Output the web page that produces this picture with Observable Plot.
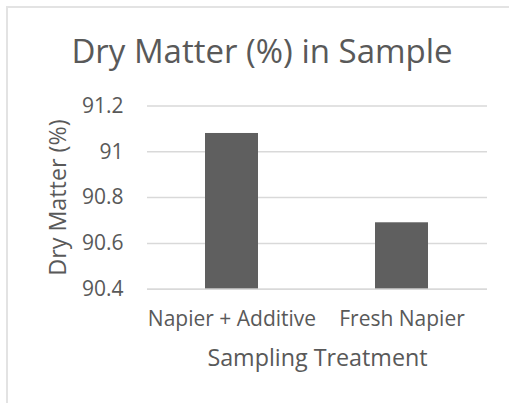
<!DOCTYPE html>
<html>
<head>
<meta charset="utf-8">
<script src="https://cdn.jsdelivr.net/npm/d3@7"></script>
<script src="https://cdn.jsdelivr.net/npm/@observablehq/plot@0.6"></script>
<style>
  html, body { margin: 0; padding: 0; background: #fff; }
  #wrap { position: relative; width: 509px; height: 403px; overflow: hidden; font-family: "Open Sans", sans-serif; }
  #border { position: absolute; left: 6px; top: 6px; width: 540px; height: 440px; border: 2px solid #e3e3e3; box-sizing: border-box; }
  #title { position: absolute; left: 7px; width: 510px; top: 33.7px; text-align: center; font-size: 33px; line-height: 33px; color: #595959; }
  #chart { position: absolute; left: 0; top: 0; }
</style>
</head>
<body>
<div id="wrap">
  <div id="border"></div>
  <div id="chart"></div>
  <div id="title">Dry Matter (%) in Sample</div>
</div>
<script>
const categories = ["Napier + Additive", "Fresh Napier"];
const values = [91.08, 90.69];
const yTicks = [90.4, 90.6, 90.8, 91.0, 91.2];
const yTickLabels = ["90.4", "90.6", "90.8", "91", "91.2"];
const xTitle = "Sampling Treatment";
const yTitle = "Dry Matter (%)";

const data = categories.map((c, i) => ({category: c, value: values[i]}));
const baseline = yTicks[0];

const plot = Plot.plot({
  width: 509,
  height: 403,
  marginTop: 105.5,
  marginBottom: 114.3,
  marginLeft: 147,
  marginRight: 22,
  style: {background: "transparent", fontFamily: "'Open Sans', sans-serif", color: "#595959"},
  x: {domain: categories, paddingInner: 0.688, paddingOuter: 0.344},
  y: {domain: [90.4, 91.2]},
  marks: [
    Plot.ruleY(yTicks, {stroke: "#d9d9d9", strokeWidth: 1.5}),
    Plot.barY(data, {x: "category", y1: () => baseline, y2: "value", fill: "#5f5f5f"}),
    Plot.ruleY([baseline], {stroke: "#d9d9d9", strokeWidth: 1.5}),
    Plot.axisY({ticks: yTicks, tickFormat: (d) => yTickLabels[yTicks.indexOf(d)], tickSize: 0, tickPadding: 24, fontSize: 21, label: null, color: "#595959"}),
    Plot.axisX({tickSize: 0, tickPadding: 22, fontSize: 21, label: null, color: "#595959"}),
    Plot.text([xTitle], {frameAnchor: "bottom", textAnchor: "middle", dy: 69.8, fontSize: 23.3, fill: "#595959", lineAnchor: "middle"}),
    Plot.text([yTitle], {frameAnchor: "left", textAnchor: "middle", dx: -88.5, rotate: -90, fontSize: 23.3, fill: "#595959", lineAnchor: "middle"})
  ]
});
document.getElementById("chart").appendChild(plot);
</script>
</body>
</html>
